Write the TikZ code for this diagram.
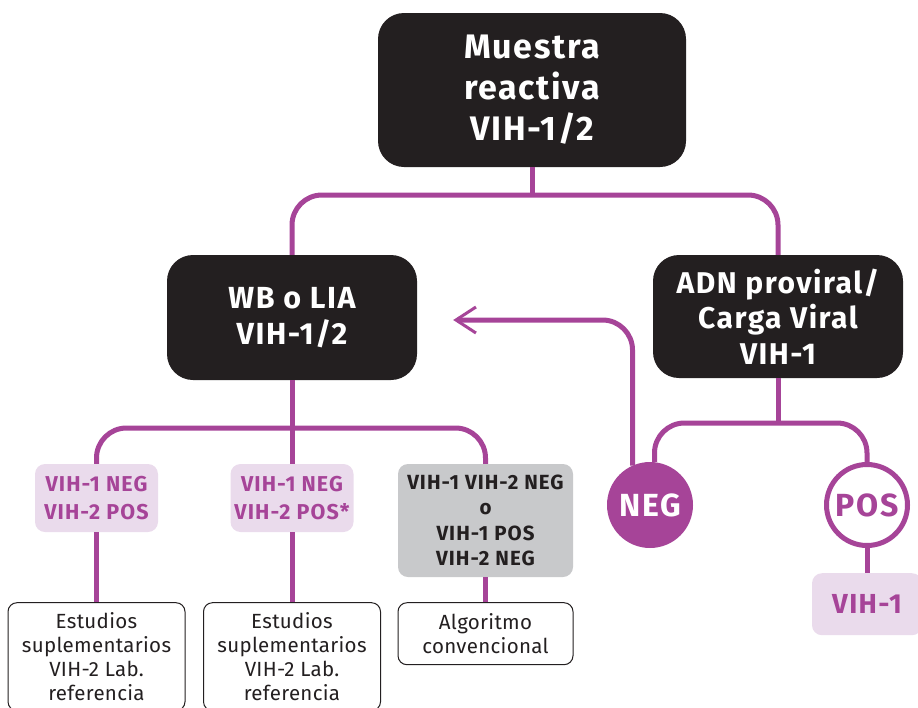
\documentclass[tikz,border=0pt]{standalone}
\usepackage{fontspec}
\setmainfont{Fira Sans}[LetterSpace=5]
\newfontfamily\plainfont{Fira Sans}[LetterSpace=1.5]
\usetikzlibrary{arrows.meta, positioning}
\definecolor{vihpurple}{RGB}{166,68,152}
\definecolor{vihpink}{RGB}{234,219,236}
\definecolor{vihgray}{RGB}{200,201,203}
\definecolor{vihblack}{RGB}{35,31,32}

\begin{document}
\begin{tikzpicture}[
    x=1pt, y=-1pt,
    >={Straight Barb[length=20pt, width=26pt, line width=3pt]},
    blk/.style={fill=vihblack, text=white, rounded corners=26pt, align=center, inner sep=0pt},
    pnk/.style={fill=vihpink, text=vihpurple, rounded corners=10pt, align=center, inner sep=0pt, font=\fontsize{21.5}{28}\selectfont\bfseries},
    gry/.style={fill=vihgray, text=vihblack, rounded corners=10pt, align=center, inner sep=0pt, font=\fontsize{20.5}{25.5}\selectfont\bfseries},
    wht/.style={draw=vihblack, line width=1pt, fill=white, rounded corners=9pt, align=center, inner sep=0pt, text=vihblack, font=\plainfont\fontsize{20.5}{24}\selectfont},
    res/.style={circle, draw=vihpurple, line width=5pt, minimum size=81pt, inner sep=0pt, font=\fontsize{32}{32}\selectfont\bfseries},
    conn/.style={draw=vihpurple, line width=5pt, rounded corners=30pt},
]
    \useasboundingbox (0,0) rectangle (918,707);
    \clip (0,0) rectangle (918,707);

    % top level
    \node[blk, minimum width=308pt, minimum height=154pt, font=\fontsize{34}{41}\selectfont\bfseries] (top) at (532,90) {\raisebox{-3pt}{\parbox{300pt}{\centering Muestra\\reactiva\\VIH-1/2}}};
    \node[blk, minimum width=250pt, minimum height=125pt, font=\fontsize{30.5}{36}\selectfont\bfseries] (wb) at (292,317.5) {WB o LIA\\VIH-1/2};
    \node[blk, minimum width=250pt, minimum height=123pt, font=\fontsize{30}{35.5}\selectfont\bfseries] (adn) at (778,316.5) {ADN proviral/\\Carga Viral\\VIH-1};

    % WB o LIA results
    \node[pnk, minimum width=123pt, minimum height=68pt] (p1) at (96.5,498) {VIH-1 NEG\\VIH-2 POS};
    \node[pnk, minimum width=123pt, minimum height=68pt] (p2) at (292,498) {VIH-1 NEG\\VIH-2 POS*};
    \node[gry, minimum width=175pt, minimum height=113pt] (g1) at (485.5,520.5) {VIH-1 VIH-2 NEG\\o\\VIH-1 POS\\VIH-2 NEG};
    \node[wht, minimum width=177pt, minimum height=108pt, below=70pt of p1] (w1) {Estudios\\suplementarios\\VIH-2 Lab.\\referencia};
    \node[wht, minimum width=177pt, minimum height=108pt, below=70pt of p2] (w2) {Estudios\\suplementarios\\VIH-2 Lab.\\referencia};
    \node[wht, minimum width=175pt, minimum height=62pt, below=25pt of g1] (w3) {Algoritmo\\convencional};

    % ADN results
    \node[res, fill=vihpurple, text=white] (neg) at (650,505) {NEG};
    \node[res, fill=white, text=vihpurple] (pos) at (867,505) {POS};
    \node[pnk, minimum width=110pt, minimum height=62pt, below=25pt of pos, font=\fontsize{27.5}{27.5}\selectfont\bfseries] (v1) {VIH-1};

    % connectors
    \coordinate (j1) at (532,195);
    \coordinate (j2) at (292,428);
    \coordinate (j3) at (778,423);
    \draw[conn] (top.south) -- (j1);
    \draw[conn] (wb.north) |- (j1) -| (adn.north);
    \draw[conn] (wb.south) -- (p2.north);
    \draw[conn] (p1.north) |- (j2) -| (g1.north);
    \draw[conn] (p1.south) -- (w1.north);
    \draw[conn] (p2.south) -- (w2.north);
    \draw[conn] (g1.south) -- (w3.north);
    \draw[conn] (adn.south) -- (j3);
    \draw[conn] (neg.84) |- (j3) -| (pos.north);
    \draw[conn] (pos.south) -- (v1.north);
    \draw[conn, ->] (neg.114) |- ([xshift=36pt, yshift=-2.5pt]wb.east);
\end{tikzpicture}
\end{document}
